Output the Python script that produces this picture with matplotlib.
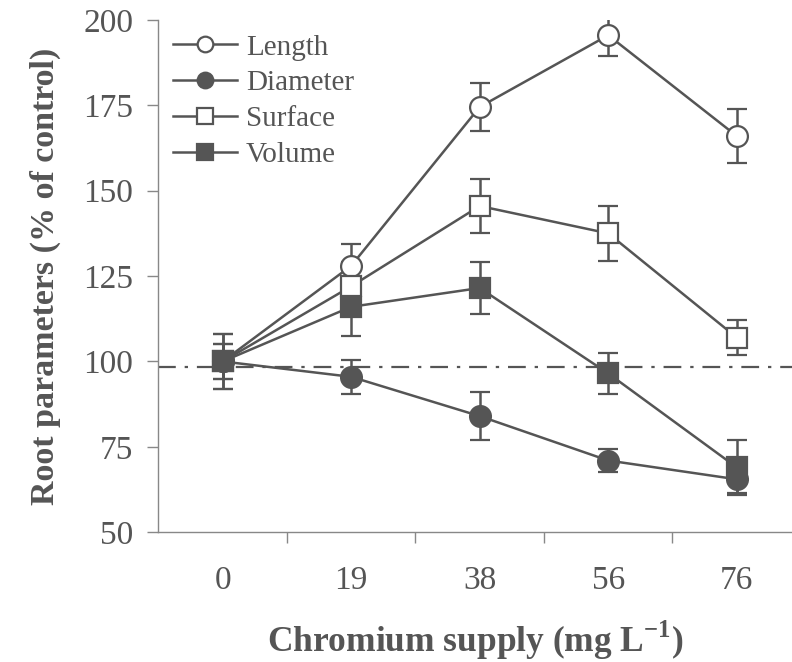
import matplotlib.pyplot as plt
import numpy as np

doses = ["0", "19", "38", "56", "76"]

length = [100, 128, 174.5, 195.5, 166]
length_err = [8, 6.5, 7, 6, 8]
diameter = [100, 95.5, 84, 71, 65.5]
diameter_err = [5, 5, 7, 3.5, 4]
surface = [100, 122, 145.5, 137.5, 107]
surface_err = [8, 7, 8, 8, 5]
volume = [100, 116, 121.5, 96.5, 69]
volume_err = [5, 8.5, 7.5, 6, 8]

control_line = 98.5

gray = "#555555"
plt.rcParams.update({
    "font.family": "Liberation Serif",
    "mathtext.fontset": "custom",
    "mathtext.rm": "Liberation Serif",
    "mathtext.bf": "Liberation Serif:bold",
})

fig = plt.figure(figsize=(7.92, 6.62), dpi=100)
ax = fig.add_axes([0.2, 0.196, 0.8, 0.774])

x = np.arange(len(doses))

series = [
    ("Length", length, length_err, "o", "white"),
    ("Diameter", diameter, diameter_err, "o", gray),
    ("Surface", surface, surface_err, "s", "white"),
    ("Volume", volume, volume_err, "s", gray),
]

ax.axhline(control_line, color=gray, lw=1.6, ls=(0, (8, 4, 1.5, 4)), zorder=1)

handles = []
for name, y, err, m, fc in series:
    c = ax.errorbar(x, y, yerr=err, color=gray, lw=1.8, marker=m, ms=15,
                    mfc=fc, mec=gray, mew=1.6, capsize=7, capthick=1.8,
                    elinewidth=1.8, label=name, zorder=3)
    handles.append(c[0])

ax.set_xlim(-0.5, 4.43)
ax.set_ylim(50, 200)
ax.set_yticks([50, 75, 100, 125, 150, 175, 200])
ax.set_xticks(x)
ax.set_xticklabels(doses)
ax.set_xticks(x[:-1] + 0.5, minor=True)
ax.tick_params(axis="x", which="major", length=0, pad=24, labelsize=24, labelcolor=gray)
ax.tick_params(axis="x", which="minor", length=8, width=1, color="#888888", direction="out")
ax.tick_params(axis="y", length=8, width=1, color="#888888", direction="out",
               pad=10, labelsize=24, labelcolor=gray)

for s in ["top", "right"]:
    ax.spines[s].set_visible(False)
for s in ["left", "bottom"]:
    ax.spines[s].set_color("#888888")
    ax.spines[s].set_linewidth(1)

ax.set_ylabel("Root parameters (% of control)", fontsize=24.5, fontweight="bold",
              color=gray, labelpad=16)
ax.set_xlabel("Chromium supply (mg L$^{\\mathbf{-1}}$)", fontsize=25.5,
              fontweight="bold", color=gray, labelpad=16)

leg = ax.legend(handles, [s[0] for s in series], loc="upper left",
                bbox_to_anchor=(0.005, 0.995), frameon=False,
                fontsize=21, handlelength=2.2, handletextpad=0.3,
                labelspacing=0.32, markerscale=0.75, borderaxespad=0)
for t in leg.get_texts():
    t.set_color(gray)

fig.savefig("out.png", dpi=100)
